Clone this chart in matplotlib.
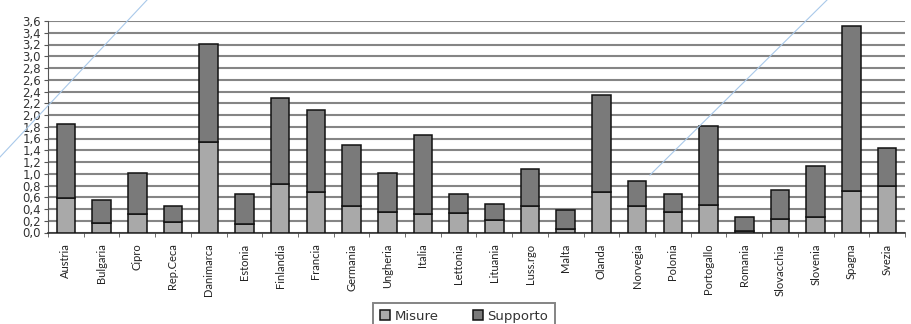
import matplotlib
matplotlib.use("Agg")
import matplotlib.pyplot as plt
import numpy as np
from matplotlib.lines import Line2D

countries = ["Austria", "Bulgaria", "Cipro", "Rep.Ceca", "Danimarca", "Estonia",
             "Finlandia", "Francia", "Germania", "Ungheria", "Italia", "Lettonia",
             "Lituania", "Luss.rgo", "Malta", "Olanda", "Norvegia", "Polonia",
             "Portogallo", "Romania", "Slovacchia", "Slovenia", "Spagna", "Svezia"]
misure = [0.58, 0.16, 0.32, 0.18, 1.54, 0.15, 0.83, 0.69, 0.45, 0.35, 0.32, 0.33,
          0.21, 0.45, 0.06, 0.69, 0.45, 0.35, 0.46, 0.03, 0.23, 0.27, 0.70, 0.80]
totale = [1.85, 0.56, 1.02, 0.45, 3.20, 0.65, 2.29, 2.09, 1.49, 1.02, 1.66, 0.66,
          0.49, 1.08, 0.39, 2.34, 0.87, 0.65, 1.81, 0.26, 0.72, 1.13, 3.51, 1.44]
supporto = [t - m for t, m in zip(totale, misure)]
y_ticks = [0.0, 0.2, 0.4, 0.6, 0.8, 1.0, 1.2, 1.4, 1.6, 1.8, 2.0, 2.2, 2.4, 2.6,
           2.8, 3.0, 3.2, 3.4, 3.6]

fig = plt.figure(figsize=(9.12, 3.24), dpi=100)
ax = fig.add_axes([48 / 912, 1 - 232.5 / 324, (905 - 48) / 912, 211.5 / 324])

x = np.arange(len(countries))
light = "#a9a9a9"
dark = "#7a7a7a"
b1 = ax.bar(x, misure, width=0.52, color=light, edgecolor="#111111", linewidth=1.1,
            label="Misure", zorder=3)
b2 = ax.bar(x, supporto, width=0.52, bottom=misure, color=dark, edgecolor="#111111",
            linewidth=1.1, label="Supporto", zorder=3)

ax.set_xlim(-0.5, len(countries) - 0.5)
ax.set_ylim(0, 3.6)
ax.set_yticks(y_ticks)
ax.set_yticklabels([f"{v:.1f}".replace(".", ",") for v in y_ticks],
                   fontsize=8.5, color="#333333")
ax.yaxis.grid(True, color="#858585", linewidth=1.5, zorder=0)
ax.set_axisbelow(True)

ax.set_xticks(x)
ax.set_xticklabels(countries, rotation=90, fontsize=8,
                   family=["Liberation Sans Narrow", "Lato", "DejaVu Sans"],
                   color="#222222")
ax.tick_params(axis="x", length=0, pad=8)
ax.set_xticks(np.arange(-0.5, len(countries), 1.0), minor=True)
ax.tick_params(axis="x", which="minor", length=3, color="#555555")
ax.tick_params(axis="y", length=3, color="#555555", pad=2)

for s in ["top", "right"]:
    ax.spines[s].set_visible(False)
ax.spines["left"].set_color("#555555")
ax.spines["bottom"].set_color("#333333")
ax.spines["bottom"].set_linewidth(1.2)

leg = fig.legend(handles=[b1, b2], loc="upper center",
                 bbox_to_anchor=(464 / 912, 1 - 303 / 324), ncol=2, fontsize=9.5,
                 frameon=True, fancybox=False, edgecolor="#666666",
                 handlelength=0.8, handleheight=0.8, handletextpad=0.3,
                 columnspacing=2.6, borderpad=0.5, borderaxespad=0)
leg.get_frame().set_linewidth(1.4)
for t in leg.get_texts():
    t.set_color("#333333")

# faint diagonal watermark strokes
fig.add_artist(Line2D([0 / 912, 147 / 912], [1 - 157 / 324, 1.0],
                      color="#a9c9ea", linewidth=0.8, transform=fig.transFigure))
fig.add_artist(Line2D([650 / 912, 827 / 912], [1 - 175 / 324, 1.0],
                      color="#a9c9ea", linewidth=0.8, transform=fig.transFigure))

fig.savefig("out.png", dpi=100)
